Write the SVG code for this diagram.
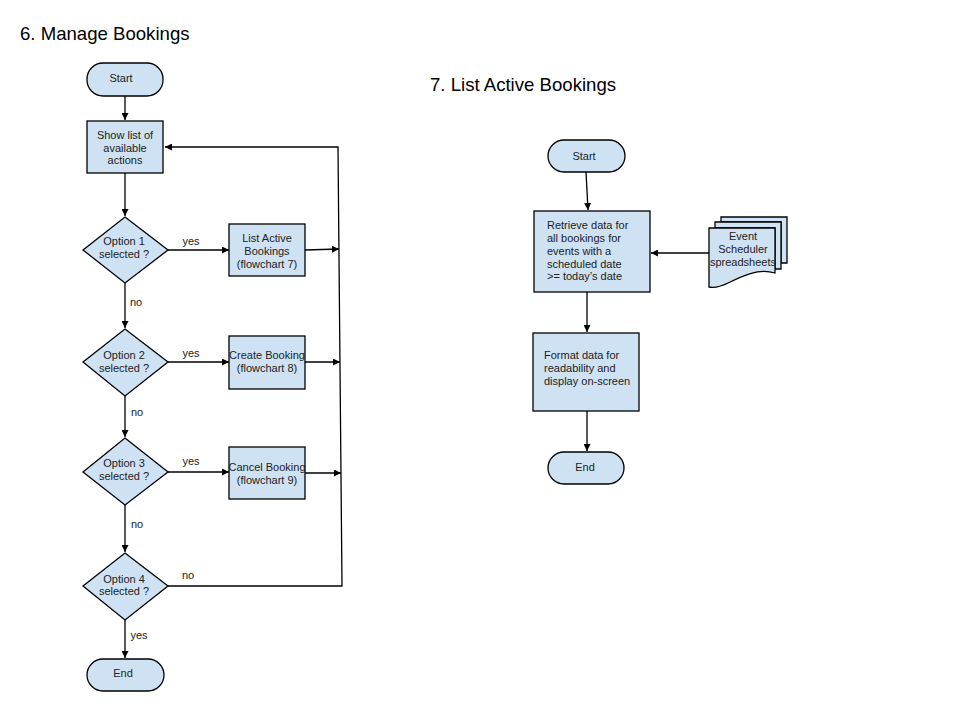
<svg xmlns="http://www.w3.org/2000/svg" width="953" height="712" viewBox="0 0 953 712">
<defs>
<style>
.n{fill:#cfe2f3;stroke:#000;stroke-width:1.3}
.t{font-family:"Liberation Sans",Arial,sans-serif;font-size:11px;fill:#222;text-anchor:middle}
.l{font-family:"Liberation Sans",Arial,sans-serif;font-size:11px;fill:#222;text-anchor:start}
.h{font-family:"Liberation Sans",Arial,sans-serif;font-size:18.6px;fill:#000}
.c{fill:none;stroke:#000;stroke-width:1.3}
</style>
<marker id="a" viewBox="0 0 10 10" refX="10" refY="5" markerWidth="7" markerHeight="7" markerUnits="userSpaceOnUse" orient="auto">
<path d="M0,0 L10,5 L0,10 z" fill="#000"/>
</marker>
</defs>
<rect width="953" height="712" fill="#fff"/>
<text class="h" x="20" y="40">6. Manage Bookings</text>
<text class="h" x="430" y="91">7. List Active Bookings</text>

<g id="connectors">
<line class="c" x1="125" y1="96" x2="125" y2="120" marker-end="url(#a)"/>
<line class="c" x1="125" y1="173" x2="125" y2="216" marker-end="url(#a)"/>
<line class="c" x1="168" y1="250" x2="229" y2="250" marker-end="url(#a)"/>
<line class="c" x1="125" y1="283" x2="125" y2="328" marker-end="url(#a)"/>
<line class="c" x1="168" y1="362" x2="229" y2="362" marker-end="url(#a)"/>
<line class="c" x1="125" y1="396" x2="125" y2="437" marker-end="url(#a)"/>
<line class="c" x1="168" y1="472" x2="229" y2="472" marker-end="url(#a)"/>
<line class="c" x1="125" y1="505" x2="125" y2="552" marker-end="url(#a)"/>
<line class="c" x1="125" y1="620" x2="125" y2="658" marker-end="url(#a)"/>
<line class="c" x1="305" y1="250" x2="339" y2="249" marker-end="url(#a)"/>
<line class="c" x1="305" y1="362" x2="340" y2="362" marker-end="url(#a)"/>
<line class="c" x1="305" y1="473" x2="341" y2="473" marker-end="url(#a)"/>
<polyline class="c" points="168,586 342,586 338,147 165,147" marker-end="url(#a)"/>
<text class="t" x="191" y="245">yes</text>
<text class="t" x="191" y="357">yes</text>
<text class="t" x="191" y="465">yes</text>
<text class="t" x="136" y="306">no</text>
<text class="t" x="137" y="416">no</text>
<text class="t" x="137" y="528">no</text>
<text class="t" x="188" y="579">no</text>
<text class="t" x="139" y="639">yes</text>
<line class="c" x1="586" y1="172" x2="588" y2="210" marker-end="url(#a)"/>
<line class="c" x1="709" y1="253" x2="651" y2="253" marker-end="url(#a)"/>
<line class="c" x1="587" y1="292" x2="587" y2="332" marker-end="url(#a)"/>
<line class="c" x1="587" y1="411" x2="587" y2="451" marker-end="url(#a)"/>
</g>

<g id="start1"><rect class="n" x="87" y="63" width="76" height="33" rx="16"/><text class="t" x="121" y="82">Start</text></g>
<g id="showlist"><rect class="n" x="87" y="121" width="76" height="52"/><text class="t" x="125" y="139">Show list of</text><text class="t" x="125" y="152">available</text><text class="t" x="125" y="164">actions</text></g>
<g id="opt1"><polygon class="n" points="125,217 168,250 125,283 83,250"/><text class="t" x="124" y="245">Option 1</text><text class="t" x="124" y="258">selected ?</text></g>
<g id="listactive"><rect class="n" x="229" y="224" width="76" height="52"/><text class="t" x="267" y="242">List Active</text><text class="t" x="267" y="255">Bookings</text><text class="t" x="267" y="268">(flowchart 7)</text></g>
<g id="opt2"><polygon class="n" points="125,329 168,362 125,396 83,362"/><text class="t" x="124" y="359">Option 2</text><text class="t" x="124" y="372">selected ?</text></g>
<g id="create"><rect class="n" x="229" y="336" width="76" height="53"/><text class="t" x="267" y="359">Create Booking</text><text class="t" x="267" y="372">(flowchart 8)</text></g>
<g id="opt3"><polygon class="n" points="125,438 168,472 125,505 83,472"/><text class="t" x="124" y="467">Option 3</text><text class="t" x="124" y="480">selected ?</text></g>
<g id="cancel"><rect class="n" x="229" y="447" width="76" height="52"/><text class="t" x="267" y="471">Cancel Booking</text><text class="t" x="267" y="484">(flowchart 9)</text></g>
<g id="opt4"><polygon class="n" points="125,553 168,586 125,620 83,586"/><text class="t" x="124" y="583">Option 4</text><text class="t" x="124" y="595">selected ?</text></g>
<g id="end1"><rect class="n" x="87" y="659" width="77" height="32" rx="16"/><text class="t" x="123" y="677">End</text></g>

<g id="start2"><rect class="n" x="548" y="140" width="77" height="32" rx="16"/><text class="t" x="584" y="160">Start</text></g>
<g id="retrieve"><rect class="n" x="534" y="211" width="116" height="81"/><text class="l" x="547" y="229">Retrieve data for</text><text class="l" x="547" y="242">all bookings for</text><text class="l" x="547" y="255">events with a</text><text class="l" x="547" y="268">scheduled date</text><text class="l" x="547" y="280">&gt;= today’s date</text></g>
<g id="docs">
<path class="n" d="M721,217 H787 V263 H781 V222 H721 Z"/>
<path class="n" d="M715,222 H781 V269 H775 V228 H715 Z"/>
<path class="n" d="M709,228 H775 V273 C758,268 742,276 728,283 C720,287 714,288 709,287 Z"/>
<text class="t" x="743" y="240">Event</text><text class="t" x="743" y="253">Scheduler</text><text class="t" x="743" y="266">spreadsheets</text>
</g>
<g id="format"><rect class="n" x="533" y="333" width="106" height="78"/><text class="l" x="544" y="359">Format data for</text><text class="l" x="544" y="372">readability and</text><text class="l" x="544" y="385">display on-screen</text></g>
<g id="end2"><rect class="n" x="548" y="452" width="76" height="32" rx="16"/><text class="t" x="585" y="471">End</text></g>
</svg>
